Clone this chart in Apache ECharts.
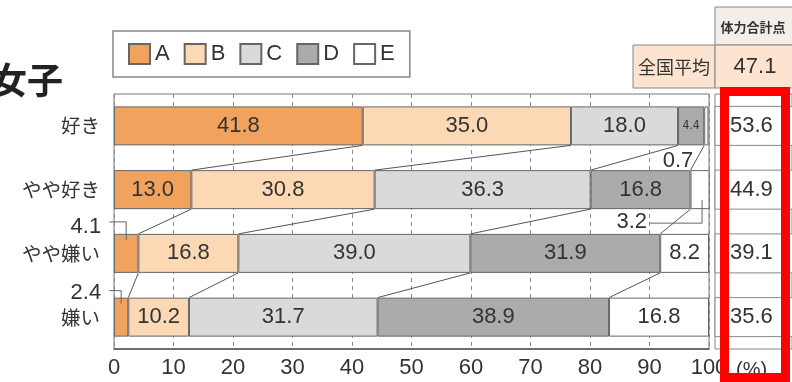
<!DOCTYPE html>
<html>
<head>
<meta charset="utf-8">
<script src="https://cdn.jsdelivr.net/npm/echarts@6/dist/echarts.min.js"></script>
<style>
  html, body { margin: 0; padding: 0; background: #fff; }
  #chart { width: 792px; height: 382px; }
</style>
</head>
<body>
<div id="chart"></div>
<script>
// Answer groups (top to bottom) and the five rating bands
const categories = ['好き', 'やや好き', 'やや嫌い', '嫌い'];
const bandNames = ['A', 'B', 'C', 'D', 'E'];

// Share of each band per group (%)
const valuesA = [41.8, 13.0, 4.1, 2.4];
const valuesB = [35.0, 30.8, 16.8, 10.2];
const valuesC = [18.0, 36.3, 39.0, 31.7];
const valuesD = [4.4, 16.8, 31.9, 38.9];
const valuesE = [0.7, 3.2, 8.2, 16.8];

// 体力合計点 per group and the national average
const totalScores = [53.6, 44.9, 39.1, 35.6];
const nationalAverage = 47.1;

// Percent axis
const xMin = 0;
const xMax = 100;
const xStep = 10;

const bandValues = [valuesA, valuesB, valuesC, valuesD, valuesE];
const bandColors = ['#f1a35d', '#fcd8b4', '#dadada', '#ababab', '#ffffff'];

const NUM_FONT = '"Liberation Sans", Arial, sans-serif';
const JP_FONT = '"Noto Sans CJK JP", sans-serif';
const BAR_W = 39;
const HALF = BAR_W / 2;

// running totals: cum[k][i] = right edge of band k in group i
const cum = bandValues.map((_, k) =>
  categories.map((_, i) => bandValues.slice(0, k + 1).reduce((s, arr) => s + arr[i], 0))
);

// labels that sit outside their (narrow) segment
const hiddenInside = { 0: [2, 3], 4: [0, 1] };
const smallInside = { 3: [0] };

const barSeries = bandNames.map((name, k) => ({
  name,
  type: 'bar',
  stack: 'share',
  barWidth: BAR_W,
  xAxisIndex: 0,
  yAxisIndex: 0,
  itemStyle: { color: bandColors[k], borderColor: '#666', borderWidth: 1 },
  label: {
    show: true,
    position: 'inside',
    color: '#333',
    fontSize: 22,
    fontFamily: NUM_FONT,
    formatter: p => p.value.toFixed(1)
  },
  data: bandValues[k].map((v, i) => {
    const item = { value: v };
    if ((hiddenInside[k] || []).includes(i)) item.label = { show: false };
    if ((smallInside[k] || []).includes(i)) item.label = { fontSize: 12, fontFamily: '"Liberation Sans Narrow", "DejaVu Sans Condensed", sans-serif' };
    return item;
  }),
  z: 3
}));

// connector lines between matching band edges of neighbouring groups
const connectorData = [];
for (let i = 0; i < categories.length - 1; i++) {
  for (let k = 0; k < 4; k++) {
    connectorData.push([cum[k][i], i, cum[k][i + 1], i + 1]);
  }
}

const connectorSeries = {
  type: 'custom',
  name: 'connectors',
  xAxisIndex: 0,
  yAxisIndex: 0,
  silent: true,
  z: 4,
  encode: { x: [0, 2], y: [1, 3] },
  data: connectorData,
  renderItem: (params, api) => {
    const p1 = api.coord([api.value(0), api.value(1)]);
    const p2 = api.coord([api.value(2), api.value(3)]);
    return {
      type: 'line',
      shape: { x1: p1[0], y1: p1[1] + HALF, x2: p2[0], y2: p2[1] - HALF },
      style: { stroke: '#555', lineWidth: 1 }
    };
  }
};

// outside labels for narrow segments, with their leader lines
const calloutSpecs = [
  { band: 0, cat: 2, edge: 'top', text: [-126 + 101, -7], align: 'right', leader: [[-126 + 109, -12], [0, -12], [0, 6]] },
  { band: 0, cat: 3, edge: 'top', text: [-121 + 101, -5], align: 'right', leader: [[-121 + 109, -7], [0, -7], [0, 6]] },
  { band: 4, cat: 0, edge: 'bottom', text: [-13, 16], align: 'right', leader: null },
  { band: 4, cat: 1, edge: 'bottom', text: [-53, 13], align: 'right', leader: [[-51, 14], [2, 14], [2, -9]] }
];

const calloutSeries = {
  type: 'custom',
  name: 'callouts',
  xAxisIndex: 0,
  yAxisIndex: 0,
  silent: true,
  z: 5,
  encode: { x: 0, y: 1 },
  data: calloutSpecs.map(s => {
    const v = bandValues[s.band][s.cat];
    const start = s.band === 0 ? 0 : cum[s.band - 1][s.cat];
    return [start + v / 2, s.cat, v];
  }),
  renderItem: (params, api) => {
    const s = calloutSpecs[params.dataIndex];
    const c = api.coord([api.value(0), api.value(1)]);
    const ex = c[0];
    const ey = s.edge === 'top' ? c[1] - HALF : c[1] + HALF;
    const children = [{
      type: 'text',
      style: {
        text: api.value(2).toFixed(1),
        x: ex + s.text[0],
        y: ey + s.text[1],
        align: s.align,
        verticalAlign: 'middle',
        fill: '#333',
        fontSize: 22,
        fontFamily: NUM_FONT
      }
    }];
    if (s.leader) {
      children.push({
        type: 'polyline',
        shape: { points: s.leader.map(p => [ex + p[0], ey + p[1]]) },
        style: { stroke: '#666', lineWidth: 1, fill: null }
      });
    }
    return { type: 'group', children };
  }
};

// 体力合計点 column cells, aligned with the bars
const scoreSeries = {
  type: 'custom',
  name: 'scores',
  xAxisIndex: 1,
  yAxisIndex: 1,
  silent: true,
  z: 3,
  encode: { y: 1 },
  data: totalScores.map((v, i) => [v, i]),
  renderItem: (params, api) => {
    const c = api.coord([0, api.value(1)]);
    return {
      type: 'group',
      children: [
        { type: 'rect', shape: { x: c[0], y: c[1] - HALF, width: 120, height: BAR_W }, style: { fill: '#fff', stroke: '#888', lineWidth: 1 } },
        { type: 'text', style: { text: api.value(0).toFixed(1), x: c[0] + 15, y: c[1], verticalAlign: 'middle', fill: '#333', fontSize: 22, fontFamily: NUM_FONT } }
      ]
    };
  }
};

const chart = echarts.init(document.getElementById('chart'), null, { renderer: 'canvas' });

chart.setOption({
  animation: false,
  backgroundColor: '#fff',
  legend: {
    data: bandNames,
    left: 113,
    top: 31,
    orient: 'horizontal',
    padding: [12, 15, 12, 15],
    borderColor: '#888',
    borderWidth: 1.5,
    itemWidth: 21,
    itemHeight: 20,
    itemGap: 14,
    icon: 'rect',
    selectedMode: false,
    textStyle: { color: '#333', fontSize: 22, fontFamily: NUM_FONT }
  },
  grid: [
    { left: 114, right: 83, top: 94, bottom: 33, show: true, borderColor: '#777', borderWidth: 1, containLabel: false },
    { left: 715, right: -40, top: 94, bottom: 33, show: true, borderColor: '#888', borderWidth: 1, containLabel: false }
  ],
  xAxis: [
    {
      type: 'value', gridIndex: 0, min: xMin, max: xMax, interval: xStep,
      axisLine: { show: true, lineStyle: { color: '#555', width: 1.5 } },
      axisTick: { show: false },
      axisLabel: { color: '#333', fontSize: 22, fontFamily: NUM_FONT, margin: 8 },
      splitLine: { show: true, lineStyle: { color: '#8a8a8a', type: [4, 4], width: 1 } }
    },
    { type: 'value', gridIndex: 1, min: 0, max: 1, show: false }
  ],
  yAxis: [
    {
      type: 'category', gridIndex: 0, data: categories, inverse: true,
      axisLine: { show: false }, axisTick: { show: false },
      axisLabel: { color: '#333', fontSize: 19.5, fontFamily: JP_FONT, margin: 14 }
    },
    { type: 'category', gridIndex: 1, data: categories, inverse: true, show: false }
  ],
  series: [...barSeries, connectorSeries, calloutSeries, scoreSeries],
  graphic: [
    // heading
    { type: 'text', x: 63, y: 80, z: 10,
      style: { text: '女子', align: 'right', verticalAlign: 'middle', fill: '#222', fontSize: 36, fontWeight: 'bold', fontFamily: JP_FONT } },
    // unit after the last tick
    { type: 'text', x: 736, y: 370, z: 10,
      style: { text: '(%)', verticalAlign: 'middle', fill: '#333', fontSize: 20, fontFamily: NUM_FONT } },
    // header cells of the score column
    { type: 'rect', z: 10, shape: { x: 715, y: 7, width: 90, height: 38 }, style: { fill: '#f3efe8', stroke: '#888', lineWidth: 1 } },
    { type: 'text', z: 11, x: 753, y: 27,
      style: { text: '体力合計点', align: 'center', verticalAlign: 'middle', fill: '#333', fontSize: 13, fontWeight: 'bold', fontFamily: JP_FONT } },
    { type: 'rect', z: 10, shape: { x: 633, y: 45, width: 82, height: 43 }, style: { fill: '#fce4d0', stroke: '#888', lineWidth: 1 } },
    { type: 'rect', z: 10, shape: { x: 715, y: 45, width: 90, height: 43 }, style: { fill: '#fce4d0', stroke: '#888', lineWidth: 1 } },
    { type: 'text', z: 11, x: 674, y: 67,
      style: { text: '全国平均', align: 'center', verticalAlign: 'middle', fill: '#333', fontSize: 18, fontFamily: JP_FONT } },
    { type: 'text', z: 11, x: 755, y: 67,
      style: { text: nationalAverage.toFixed(1), align: 'center', verticalAlign: 'middle', fill: '#333', fontSize: 22, fontFamily: NUM_FONT } },
    // highlight frame around the score column
    { type: 'rect', z: 20, shape: { x: 724.5, y: 91.5, width: 61, height: 286 },
      style: { fill: null, stroke: '#ff0000', lineWidth: 9 } }
  ]
});
</script>
</body>
</html>
